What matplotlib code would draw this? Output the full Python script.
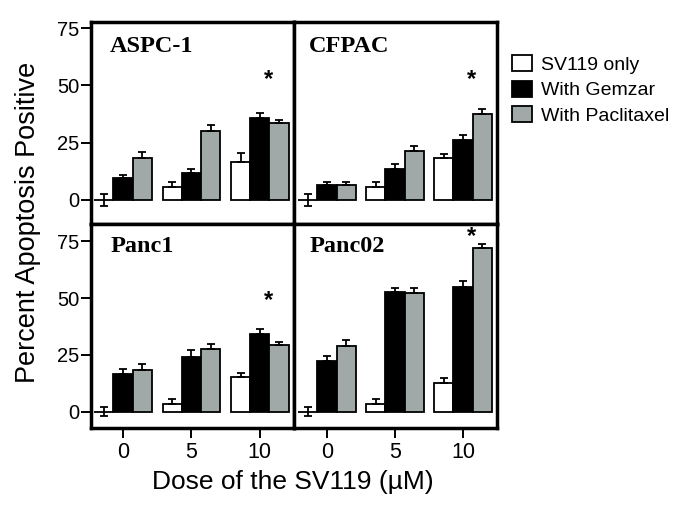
import matplotlib
matplotlib.use("Agg")
import matplotlib.pyplot as plt
from matplotlib.patches import Patch
import numpy as np

doses = ["0", "5", "10"]
treatments = ["SV119 only", "With Gemzar", "With Paclitaxel"]
cell_lines = ["ASPC-1", "CFPAC", "Panc1", "Panc02"]

# means per treatment across doses (0, 5, 10 uM)
aspc1_sv119 = [0.0, 5.6, 16.5]
aspc1_gemzar = [9.6, 11.8, 36.0]
aspc1_paclitaxel = [18.2, 30.0, 33.5]
aspc1_sv119_err = [2.5, 2.2, 3.9]
aspc1_gemzar_err = [1.5, 1.8, 1.8]
aspc1_paclitaxel_err = [2.6, 2.6, 1.6]

cfpac_sv119 = [0.0, 5.6, 18.2]
cfpac_gemzar = [6.5, 13.5, 26.0]
cfpac_paclitaxel = [6.5, 21.5, 37.5]
cfpac_sv119_err = [2.6, 2.2, 2.0]
cfpac_gemzar_err = [1.5, 2.0, 2.2]
cfpac_paclitaxel_err = [1.5, 2.2, 2.3]

panc1_sv119 = [0.0, 3.2, 15.1]
panc1_gemzar = [16.6, 24.0, 34.4]
panc1_paclitaxel = [18.4, 27.5, 29.2]
panc1_sv119_err = [2.0, 2.4, 1.9]
panc1_gemzar_err = [2.0, 3.0, 2.2]
panc1_paclitaxel_err = [2.7, 2.2, 1.6]

panc02_sv119 = [0.0, 3.2, 12.8]
panc02_gemzar = [22.5, 52.6, 54.9]
panc02_paclitaxel = [29.1, 52.5, 72.0]
panc02_sv119_err = [2.0, 2.2, 1.9]
panc02_gemzar_err = [2.2, 2.0, 2.5]
panc02_paclitaxel_err = [2.5, 1.8, 2.0]

# asterisk heights (significance markers at 10 uM)
star_y = [52.4, 52.4, 49.0, 77.0]

yticks = [0, 25, 50, 75]

means = {
    "ASPC-1": [aspc1_sv119, aspc1_gemzar, aspc1_paclitaxel],
    "CFPAC": [cfpac_sv119, cfpac_gemzar, cfpac_paclitaxel],
    "Panc1": [panc1_sv119, panc1_gemzar, panc1_paclitaxel],
    "Panc02": [panc02_sv119, panc02_gemzar, panc02_paclitaxel],
}
errs = {
    "ASPC-1": [aspc1_sv119_err, aspc1_gemzar_err, aspc1_paclitaxel_err],
    "CFPAC": [cfpac_sv119_err, cfpac_gemzar_err, cfpac_paclitaxel_err],
    "Panc1": [panc1_sv119_err, panc1_gemzar_err, panc1_paclitaxel_err],
    "Panc02": [panc02_sv119_err, panc02_gemzar_err, panc02_paclitaxel_err],
}

colors = ["white", "black", "#a0a8a8"]
sans = "Liberation Sans"
serif = "Liberation Serif"

W, H = 685, 508
fig = plt.figure(figsize=(W / 100, H / 100), dpi=100)

def px_axes(x0, y0, x1, y1):
    return fig.add_axes([x0 / W, 1 - y1 / H, (x1 - x0) / W, (y1 - y0) / H])

boxes = [(91, 22, 294, 224), (294, 22, 497, 224), (91, 224, 294, 428), (294, 224, 497, 428)]
ylims = [(-10.5, 77.7), (-10.5, 77.7), (-7.2, 82.7), (-7.2, 82.7)]
xlims = [(-0.467, 2.5), (-0.485, 2.5), (-0.467, 2.5), (-0.485, 2.5)]
title_x = [0.094, 0.074, 0.094, 0.078]
title_y = [0.93, 0.93, 0.94, 0.94]

bw = 0.28
x = np.arange(len(doses))
for i, name in enumerate(cell_lines):
    ax = px_axes(*boxes[i])
    for j in range(3):
        m = np.array(means[name][j])
        e = np.array(errs[name][j])
        lower = np.where(m == 0, e, 0)
        pos = x + (j - 1) * bw
        ax.bar(pos, m, width=bw, color=colors[j], edgecolor="black", linewidth=1.3, zorder=2)
        ax.errorbar(pos, m, yerr=[lower, e], fmt="none", ecolor="black",
                    elinewidth=1.3, capsize=3.2, capthick=1.3, zorder=3)
    ax.set_xlim(*xlims[i])
    ax.set_ylim(*ylims[i])
    for s in ax.spines.values():
        s.set_linewidth(2.5)
    ax.text(title_x[i], title_y[i], name, transform=ax.transAxes, ha="left", va="top",
            fontsize=17.5, fontweight="bold", family=serif)
    ax.text(2 + 0.12, star_y[i], "*", ha="center", va="center", fontsize=17,
            family=sans, fontweight="bold")
    if i % 2 == 0:
        ax.set_yticks(yticks)
        ax.set_yticklabels([str(t) for t in yticks], fontsize=14.5, family=sans)
        ax.tick_params(axis="y", length=7, width=1.4, pad=1.5)
    else:
        ax.set_yticks([])
    if i >= 2:
        ax.set_xticks(x)
        ax.set_xticklabels(doses, fontsize=15.5, family=sans)
        ax.tick_params(axis="x", length=7, width=1.4, pad=3)
    else:
        ax.set_xticks([])

fig.text(28 / W, 1 - 222 / H, "Percent Apoptosis Positive", rotation=90,
         ha="center", va="center", fontsize=19.5, family=sans)
fig.text(293 / W, 1 - 482 / H, "Dose of the SV119 (µM)", ha="center", va="center",
         fontsize=19, family=sans)

handles = [Patch(facecolor=c, edgecolor="black", linewidth=1.3) for c in colors]
fig.legend(handles, treatments, loc="upper left", bbox_to_anchor=(512 / W, 1 - 55 / H),
           frameon=False, prop={"family": sans, "size": 14}, handlelength=1.05,
           handleheight=0.9, handletextpad=0.45, labelspacing=0.35,
           borderpad=0, borderaxespad=0)

fig.savefig("out.png", dpi=100)
